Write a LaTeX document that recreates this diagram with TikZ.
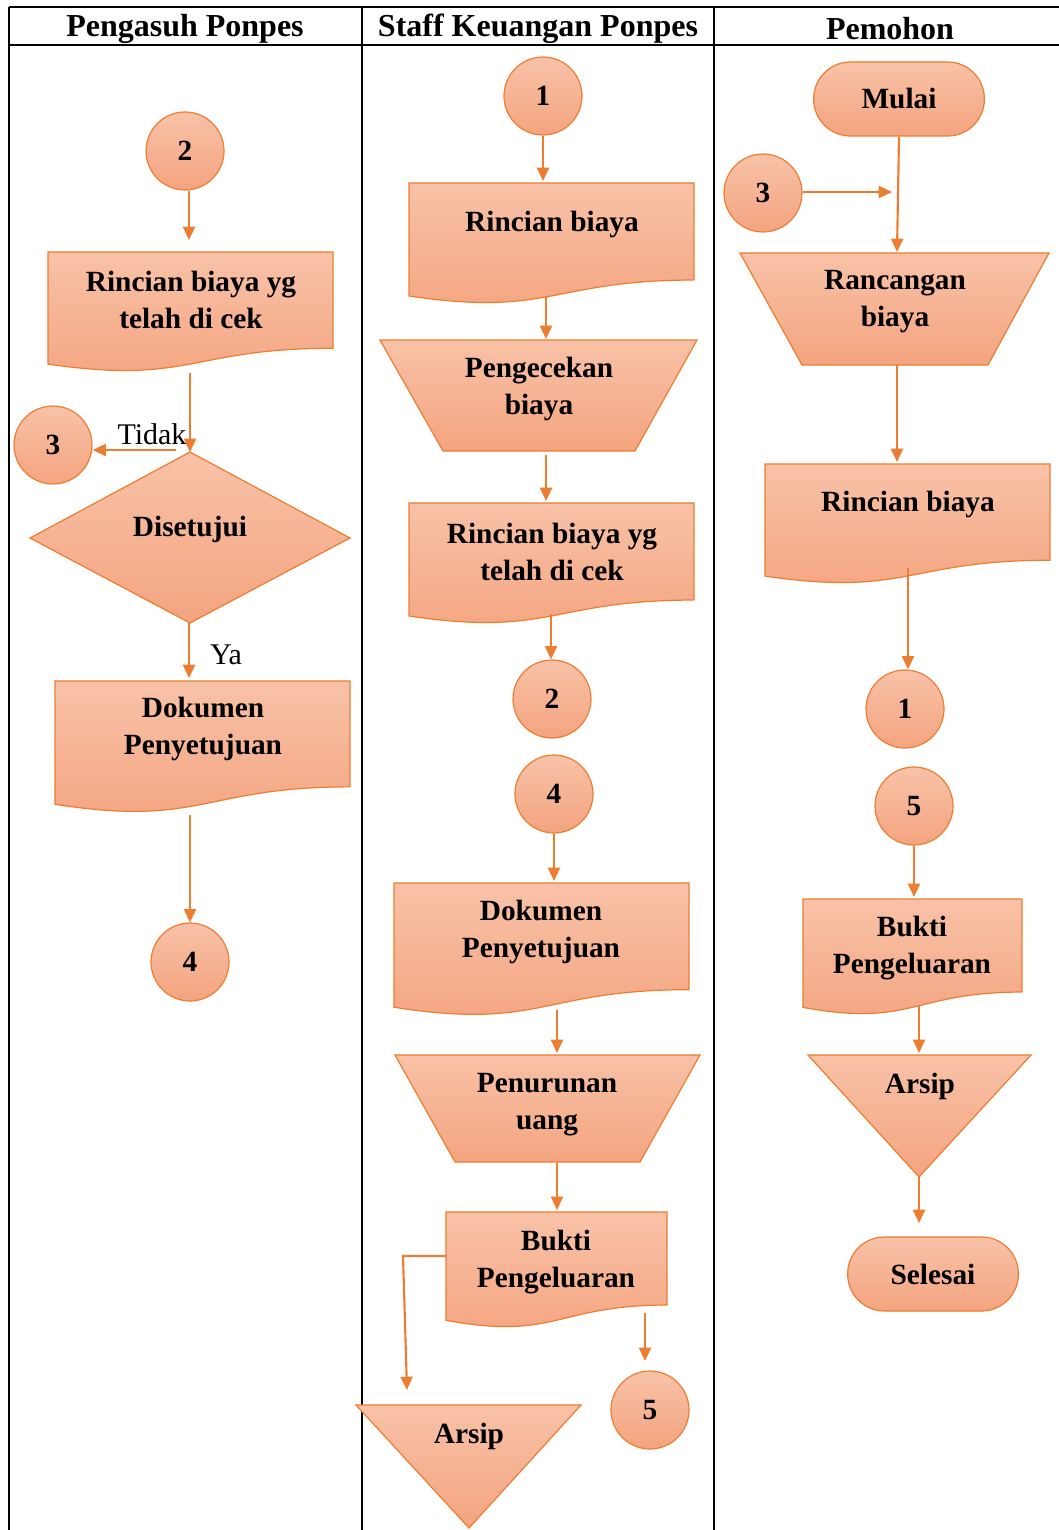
\documentclass[tikz,border=0pt]{standalone}
\usepackage{fontspec}
\setmainfont{Liberation Serif}[BoldFont={Liberation Serif Bold}]
\usetikzlibrary{arrows.meta}
\definecolor{orl}{HTML}{ED7D31}
\definecolor{ftop}{HTML}{F8C2A8}
\definecolor{fbot}{HTML}{F4A47F}
\newcommand\mybody{\fontsize{22}{27.75}\selectfont\bfseries}
\newcommand\myhead{\fontsize{24}{26}\selectfont\bfseries}
\newcommand\myreg{\fontsize{22.5}{26}\selectfont}
\newcommand\docshape[4]{%
  \path[shp] (#1,#2) -- (#3,#2) -- (#3,{#2+0.802*#4})
    .. controls ({(#1+#3)/2},{#2+0.802*#4}) and ({(#1+#3)/2},{#2+1.108*#4}) ..
    (#1,{#2+0.934*#4}) -- cycle;}
\tikzset{
  shp/.style={draw=orl, line width=0.9pt, top color=ftop, bottom color=fbot},
  conn/.style={circle, shp, minimum size=58.5pt, inner sep=0pt, font=\mybody},
  term/.style={rectangle, rounded corners=27.5pt, shp, minimum width=128pt, minimum height=55.5pt, inner sep=0pt, font=\mybody},
  lbl/.style={font=\mybody, align=center, inner sep=0pt},
  arr/.style={draw=orl, line width=1.6pt, -{Triangle[length=10pt,width=9pt]}},
  lane/.style={line width=1.5pt, black},
  hd/.style={font=\myhead, inner sep=0pt}
}
\begin{document}
\begin{tikzpicture}[x=0.75pt,y=-0.75pt]
\useasboundingbox (0,0) rectangle (1059,1530);
% frame
\draw[lane] (9,7) -- (1059,7);
\draw[lane] (9,45) -- (1059,45);
\draw[lane] (9,7) -- (9,1530);
\draw[lane] (362,7) -- (362,1530);
\draw[lane] (714,7) -- (714,1530);
\node[hd] (h1) at (185,29) {Pengasuh Ponpes};
\node[hd] (h2) at (538,29) {Staff Keuangan Ponpes};
\node[hd] (h3) at (890,29) {Pemohon};

% ===== Column 1 =====
\node[conn] (p2) at (185,151) {2};
\coordinate (p2e) at (189,240);
\draw[arr] (p2e |- p2.south) -- (p2e);
\docshape{48}{252}{333}{120}
\node[lbl] (pdoc1) at (191,300) {Rincian biaya yg\\telah di cek};
\path[shp] (190,452) -- (350,538) -- (190,623) -- (30,538) -- cycle;
\node[lbl] (dis) at (190,529) {Disetujui};
\coordinate (pd1out) at (190,373);
\coordinate (dtop) at (190,452);
\draw[arr] (pd1out) -- (dtop);
\node[conn] (p3) at (53,445) {3};
\coordinate (tst) at (176,450);
\draw[arr] (tst) -- (p3.east |- tst);
\node[font=\myreg, inner sep=0pt] (tidak) at (152,434) {Tidak};
\coordinate (dbot) at (189,623);
\coordinate (pd2in) at (189,678);
\draw[arr] (dbot) -- (pd2in);
\node[font=\myreg, inner sep=0pt] (ya) at (226,655) {Ya};
\docshape{55}{681}{350}{132}
\node[lbl] (pdoc2) at (203,729) {Dokumen\\Penyetujuan};
\node[conn] (p4) at (190,962) {4};
\coordinate (pd2out) at (190,815);
\draw[arr] (pd2out) -- (pd2out |- p4.north);

% ===== Column 2 =====
\node[conn] (s1) at (543,96) {1};
\coordinate (sd1in) at (543,181);
\draw[arr] (s1.south) -- (sd1in);
\docshape{409}{183}{694}{121}
\node[lbl] (sdoc1) at (552,224) {Rincian biaya};
\coordinate (sd1out) at (546,297);
\coordinate (st1in) at (546,339);
\draw[arr] (sd1out) -- (st1in);
\path[shp] (380,340) -- (697,340) -- (635,451) -- (443,451) -- cycle;
\node[lbl] (peng) at (539,389) {Pengecekan\\biaya};
\coordinate (st1out) at (546,455);
\coordinate (sd2in) at (546,501);
\draw[arr] (st1out) -- (sd2in);
\docshape{409}{503}{694}{121}
\node[lbl] (sdoc2) at (552,551.5) {Rincian biaya yg\\telah di cek};
\node[conn] (s2) at (552,699) {2};
\coordinate (sd2out) at (551,614);
\draw[arr] (sd2out) -- (sd2out |- s2.north);
\node[conn] (s4) at (554,794) {4};
\coordinate (sd3in) at (554,881);
\draw[arr] (s4.south) -- (sd3in);
\docshape{394}{883}{689}{133}
\node[lbl] (sdoc3) at (541,931.5) {Dokumen\\Penyetujuan};
\coordinate (sd3out) at (557,1010);
\coordinate (st2in) at (557,1053);
\draw[arr] (sd3out) -- (st2in);
\path[shp] (395,1055) -- (700,1055) -- (640,1162) -- (455,1162) -- cycle;
\node[lbl] (pen) at (547,1104.5) {Penurunan\\uang};
\coordinate (st2out) at (557,1163);
\coordinate (sd4in) at (557,1210);
\draw[arr] (st2out) -- (sd4in);
\docshape{446}{1212}{667}{116}
\node[lbl] (sdoc4) at (556,1262) {Bukti\\Pengeluaran};
\coordinate (bkl) at (446,1256);
\coordinate (bkc) at (403,1256);
\coordinate (arsin) at (407,1390);
\draw[arr] (bkl) -- (bkc) -- (arsin);
\node[conn] (s5) at (650,1410) {5};
\coordinate (bkr) at (645,1313);
\coordinate (s5in) at (645,1361);
\draw[arr] (bkr) -- (s5in);
\path[shp] (356,1405) -- (581,1405) -- (469,1528) -- cycle;
\node[lbl] (ars1) at (469,1436) {Arsip};

% ===== Column 3 =====
\node[term] (mulai) at (899,99) {Mulai};
\node[conn] (m3) at (763,193) {3};
\coordinate (m3e) at (892,192);
\draw[arr] (m3.east |- m3e) -- (m3e);
\coordinate (mt1in) at (897,252);
\draw[arr] (mulai.south) -- (mt1in);
\path[shp] (740,253) -- (1049,253) -- (988,365) -- (802,365) -- cycle;
\node[lbl] (ranc) at (895,302) {Rancangan\\biaya};
\coordinate (mt1out) at (897,365);
\coordinate (md1in) at (897,462);
\draw[arr] (mt1out) -- (md1in);
\docshape{765}{464}{1050}{120}
\node[lbl] (mdoc1) at (908,504) {Rincian biaya};
\node[conn] (m1) at (905,709) {1};
\coordinate (md1out) at (908,568);
\draw[arr] (md1out) -- (md1out |- m1.north);
\node[conn] (m5) at (914,806) {5};
\coordinate (md2in) at (914,897);
\draw[arr] (m5.south) -- (md2in);
\docshape{803}{899}{1022}{116}
\node[lbl] (mdoc2) at (912,948) {Bukti\\Pengeluaran};
\coordinate (md2out) at (919,1005);
\coordinate (mtrin) at (919,1053);
\draw[arr] (md2out) -- (mtrin);
\path[shp] (808,1055) -- (1031,1055) -- (919,1177) -- cycle;
\node[lbl] (ars2) at (920,1086) {Arsip};
\node[term] (selesai) at (933,1274) {Selesai};
\coordinate (mtrout) at (919,1177);
\coordinate (selin) at (919,1223);
\draw[arr] (mtrout) -- (selin);
\end{tikzpicture}
\end{document}
